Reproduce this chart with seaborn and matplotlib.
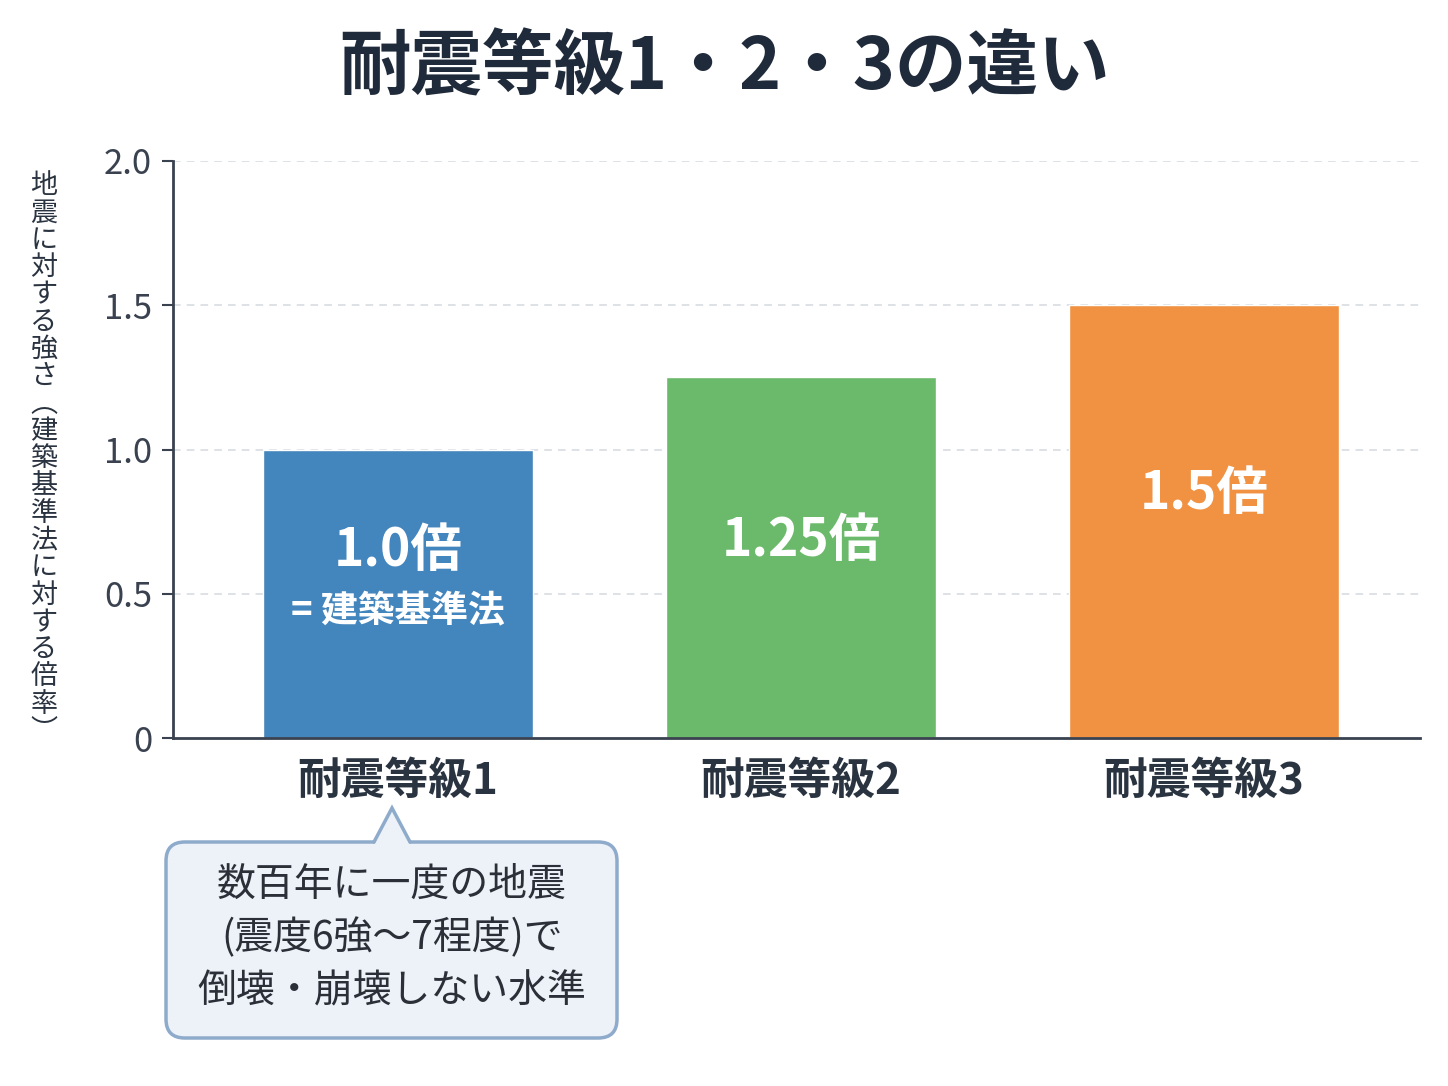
import numpy as np
import pandas as pd
import matplotlib
matplotlib.use("Agg")
import matplotlib.pyplot as plt
import seaborn as sns
from matplotlib.patches import FancyBboxPatch, Polygon
from matplotlib.lines import Line2D

# data
grades = ["耐震等級1", "耐震等級2", "耐震等級3"]
strength = [1.0, 1.25, 1.5]
bar_colors = ["#4385bd", "#6bb96b", "#f09242"]
value_labels = ["1.0倍", "1.25倍", "1.5倍"]
label_y = [0.65, 0.683, 0.849]
sub_label = "= 建築基準法"
y_ticks = [0, 0.5, 1.0, 1.5, 2.0]
y_tick_labels = ["0", "0.5", "1.0", "1.5", "2.0"]
title = "耐震等級1・2・3の違い"
y_label = "地震に対する強さ︵建築基準法に対する倍率︶"
note_lines = ["数百年に一度の地震", "(震度6強〜7程度)で", "倒壊・崩壊しない水準"]

sns.set_theme(style="white")
plt.rcParams["font.family"] = ["Noto Sans CJK JP", "DejaVu Sans"]

dark = "#1f2a3a"
axis_col = "#3a4250"

df = pd.DataFrame({"grade": grades, "strength": strength})

fig = plt.figure(figsize=(14.48, 10.86), dpi=100)
ax = fig.add_axes([173 / 1448, 1 - 738 / 1086, (1420 - 173) / 1448, (738 - 161) / 1086])

sns.barplot(data=df, x="grade", y="strength", hue="grade", palette=bar_colors,
            width=0.67, legend=False, ax=ax, zorder=3, saturation=1)

ax.set_xlim(-0.558, 2.536)
ax.set_ylim(0, 2.0)
ax.set_yticks(y_ticks)
ax.set_yticklabels(y_tick_labels)
ax.set_xlabel("")
ax.set_ylabel("")

# grid
for v in y_ticks[1:]:
    ax.axhline(v, color="#d5d9de", lw=1.1, ls=(0, (5, 4)), zorder=1)

for s in ["top", "right"]:
    ax.spines[s].set_visible(False)
for s in ["left", "bottom"]:
    ax.spines[s].set_color(axis_col)
    ax.spines[s].set_linewidth(2)
    ax.spines[s].set_zorder(4)

ax.tick_params(axis="y", which="major", left=True, length=8, width=1.5, color=axis_col,
               labelsize=25, labelcolor=axis_col, pad=7)
ax.tick_params(axis="x", bottom=False, labelsize=31.5, labelcolor="#2a3340", pad=9)
for t in ax.get_xticklabels():
    t.set_fontweight("bold")

# value labels in bars
for i, (lab, yy) in enumerate(zip(value_labels, label_y)):
    ax.text(i, yy, lab, ha="center", va="center", color="white",
            fontsize=37, fontweight="bold", zorder=5)
ax.text(0, 0.437, sub_label, ha="center", va="center", color="white",
        fontsize=26.5, fontweight="bold", zorder=5)

# title
fig.text(0.5, 1 - 68 / 1086, title, ha="center", va="center", fontsize=51.5,
         fontweight="bold", color=dark)

# vertical y label, one character per row
pitch = 27.3 / 1086
y0 = 1 - (172 + 13.6) / 1086
for i, ch in enumerate(y_label):
    fig.text(44 / 1448, y0 - i * pitch, ch, ha="center", va="center",
             fontsize=19.5, color="#2a3340")

# callout box
fill = "#edf2f8"
edge = "#8eabcb"
bx0, bx1 = 166 / 1448, 617 / 1448
by0, by1 = 1 - 1038 / 1086, 1 - 842 / 1086
box = FancyBboxPatch((bx0, by0), bx1 - bx0, by1 - by0,
                     boxstyle="round,pad=0,rounding_size=0.013",
                     transform=fig.transFigure, facecolor=fill, edgecolor=edge,
                     lw=2.5, zorder=2, mutation_aspect=1448 / 1086)
fig.patches.append(box)
tip_x, tip_y = 392 / 1448, 1 - 808 / 1086
bl, br = 374 / 1448, 410 / 1448
tri = Polygon([(bl, by1 - 0.003), (tip_x, tip_y), (br, by1 - 0.003)], closed=True,
              transform=fig.transFigure, facecolor=fill, edgecolor="none", zorder=3)
fig.patches.append(tri)
fig.lines.append(Line2D([bl, tip_x, br], [by1, tip_y, by1], transform=fig.transFigure,
                        color=edge, lw=2.5, zorder=4, solid_joinstyle="miter"))

for k, line in enumerate(note_lines):
    fig.text(392 / 1448, 1 - (885 + k * 53) / 1086, line, ha="center", va="center",
             fontsize=28, color="#2a2f38", zorder=5)

fig.savefig("out.png", dpi=100, facecolor="white")
